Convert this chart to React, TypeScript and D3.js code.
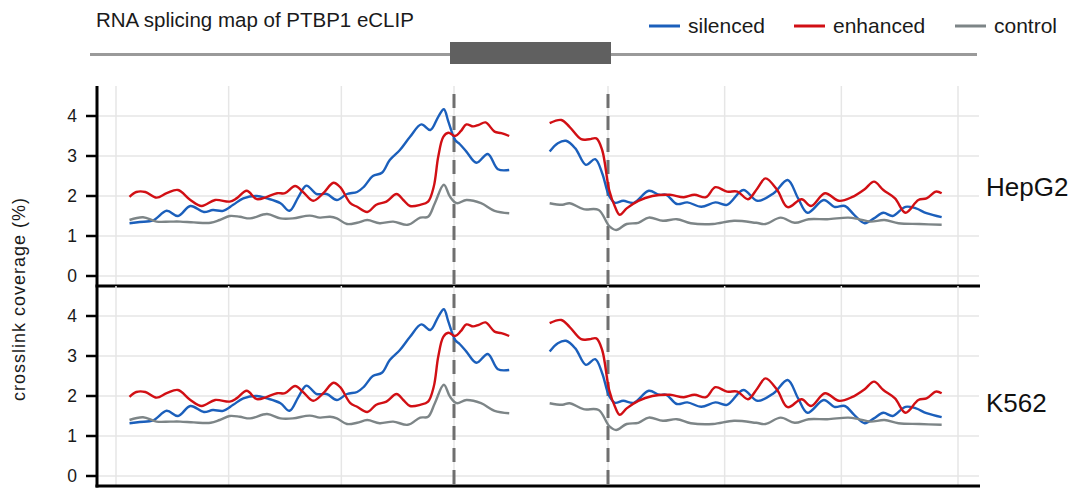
import React from 'react';
import * as d3 from 'd3';

// splicing map: crosslink coverage around the cassette exon, positions in nt
const seriesNames = ['silenced', 'enhanced', 'control'];
const seriesColors = ['#1b5fbb', '#d10f14', '#7d8587'];
const cellLines = ['HepG2', 'K562'];
const yTicks = [0, 1, 2, 3, 4];
const upstreamBreaks = [-300, -200, -100, 0];
const downstreamBreaks = [0, 100, 200, 300];

// upstream intron -> exon start (0)
const silencedUp = [
  [-288, 1.32], [-279, 1.35], [-267, 1.39], [-255, 1.63], [-245, 1.5], [-234, 1.75],
  [-222, 1.6], [-214, 1.65], [-205, 1.63], [-196, 1.78], [-187, 1.94], [-175, 2.0],
  [-166, 1.94], [-154, 1.82], [-146, 1.63], [-138, 1.98], [-131, 2.26], [-122, 2.05],
  [-113, 2.05], [-104, 1.9], [-95, 2.05], [-86, 2.1], [-80, 2.23], [-72, 2.5],
  [-64, 2.58], [-57, 2.9], [-48, 3.15], [-39, 3.48], [-29, 3.79], [-21, 3.65],
  [-14, 3.98], [-9, 4.17], [-5, 3.86], [1, 3.4], [5, 3.3], [11, 3.11], [20, 2.83],
  [30, 3.05], [39, 2.67], [49, 2.65],
];
const enhancedUp = [
  [-288, 1.98], [-282, 2.1], [-274, 2.1], [-264, 1.96], [-255, 2.07], [-245, 2.15],
  [-234, 1.9], [-224, 1.75], [-212, 1.9], [-199, 1.86], [-193, 1.94], [-184, 2.13],
  [-175, 1.92], [-166, 1.98], [-157, 2.07], [-150, 2.07], [-141, 2.25], [-134, 2.1],
  [-125, 1.88], [-116, 2.07], [-107, 2.33], [-101, 2.22], [-92, 1.82], [-86, 1.73],
  [-77, 1.6], [-69, 1.78], [-60, 1.86], [-51, 2.05], [-45, 1.9], [-39, 1.75],
  [-30, 1.78], [-23, 1.86], [-18, 2.23], [-14, 2.98], [-9.5, 3.48], [-5, 3.58],
  [1, 3.5], [6, 3.62], [11, 3.79], [17, 3.74], [22, 3.78], [28, 3.84], [36, 3.61],
  [42, 3.57], [49, 3.5],
];
const controlUp = [
  [-288, 1.4], [-276, 1.47], [-264, 1.36], [-252, 1.36], [-243, 1.36], [-231, 1.34],
  [-216, 1.33], [-208, 1.4], [-199, 1.5], [-190, 1.48], [-181, 1.44], [-166, 1.55],
  [-154, 1.44], [-143, 1.44], [-128, 1.51], [-119, 1.46], [-110, 1.48], [-104, 1.44],
  [-95, 1.3], [-86, 1.33], [-77, 1.4], [-66, 1.32], [-54, 1.36], [-41, 1.28],
  [-30, 1.46], [-23, 1.48], [-17, 1.82], [-9, 2.28], [-3.5, 1.98], [2.4, 1.82],
  [11, 1.9], [24, 1.82], [36, 1.63], [49, 1.57],
];

// exon end (0) -> downstream intron
const silencedDown = [
  [-50, 3.11], [-43, 3.32], [-36, 3.38], [-28, 3.19], [-19, 2.78], [-11, 2.92],
  [-5, 2.57], [1, 2.0], [6, 1.83], [13, 1.88], [22, 1.83], [35, 2.13], [44, 2.03],
  [50, 2.03], [59, 1.8], [68, 1.84], [80, 1.73], [92, 1.84], [102, 1.78], [116, 2.15],
  [128, 1.88], [142, 2.07], [154, 2.4], [163, 1.94], [171, 1.58], [185, 1.9],
  [194, 1.73], [203, 1.75], [211, 1.53], [220, 1.32], [228, 1.44], [236, 1.58],
  [244, 1.5], [255, 1.73], [264, 1.69], [273, 1.57], [286, 1.47],
];
const enhancedDown = [
  [-50, 3.82], [-40, 3.9], [-33, 3.73], [-23, 3.42], [-16, 3.42], [-10, 3.44],
  [-5, 3.15], [1, 2.15], [6, 1.73], [10, 1.53], [16, 1.69], [26, 1.88], [38, 2.0],
  [53, 2.03], [65, 1.97], [74, 2.03], [84, 1.97], [92, 2.22], [102, 2.11], [111, 2.11],
  [120, 1.92], [128, 2.19], [135, 2.44], [145, 2.15], [154, 1.72], [166, 1.92],
  [174, 1.75], [186, 2.07], [198, 1.88], [209, 1.97], [220, 2.17], [228, 2.36],
  [236, 2.15], [246, 1.94], [255, 1.58], [266, 1.9], [273, 1.94], [281, 2.11], [286, 2.07],
];
const controlDown = [
  [-50, 1.82], [-39, 1.78], [-33, 1.82], [-21, 1.67], [-8, 1.65], [1, 1.25], [7, 1.15],
  [16, 1.3], [26, 1.33], [35, 1.46], [47, 1.38], [59, 1.42], [71, 1.32], [90, 1.3],
  [108, 1.38], [127, 1.33], [135, 1.3], [148, 1.46], [160, 1.33], [172, 1.42],
  [188, 1.42], [206, 1.46], [215, 1.42], [225, 1.36], [237, 1.4], [249, 1.32],
  [267, 1.3], [286, 1.28],
];

const upstream = [silencedUp, enhancedUp, controlUp];
const downstream = [silencedDown, enhancedDown, controlDown];

const W = 1076;
const H = 489;
const FONT = '"Liberation Sans", Arial, Helvetica, sans-serif';

export default function App() {
  const plotLeft = 97;
  const plotRight = 979;
  const panelTop = 86;
  const panelH = 200;

  const xUp = d3.scaleLinear().domain([-300, 0]).range([116, 454]);
  const xDown = d3.scaleLinear().domain([0, 300]).range([608, 958]);

  const legendX = [649, 794, 955];

  return (
    <svg width={W} height={H} style={{ position: 'absolute', left: 0, top: 0 }} fontFamily={FONT}>
      <rect width={W} height={H} fill="#fff" />

      {/* title + exon diagram */}
      <text x={96} y={27} fontSize={20.5} fill="#1a1a1a">RNA splicing map of PTBP1 eCLIP</text>
      <line x1={90} x2={977} y1={54.5} y2={54.5} stroke="#9a9a9a" strokeWidth={3} />
      <rect x={xUp(0) - 4} y={42} width={xDown(0) - xUp(0) + 7} height={22} fill="#606060" />

      {/* legend */}
      {seriesNames.map((name, i) => (
        <g key={name}>
          <line x1={legendX[i]} x2={legendX[i] + 31} y1={26} y2={26} stroke={seriesColors[i]} strokeWidth={3} />
          <text x={legendX[i] + 39} y={33} fontSize={21} fill="#1a1a1a">{name}</text>
        </g>
      ))}

      {cellLines.map((cell, p) => {
        const top = panelTop + p * panelH;
        const y = d3.scaleLinear().domain([-0.25, 4.75]).range([top + panelH, top]);
        const line = (xs: d3.ScaleLinear<number, number>) =>
          d3
            .line<number[]>()
            .x((d) => xs(d[0]))
            .y((d) => y(d[1]))
            .curve(d3.curveCatmullRom.alpha(0.5));
        return (
          <g key={cell}>
            {/* grid */}
            {yTicks.map((t) => (
              <line key={'h' + t} x1={plotLeft} x2={plotRight} y1={y(t)} y2={y(t)} stroke="#e6e6e6" strokeWidth={1.5} />
            ))}
            {upstreamBreaks.map((b) => (
              <line key={'u' + b} x1={xUp(b)} x2={xUp(b)} y1={top} y2={top + panelH} stroke="#e6e6e6" strokeWidth={1.5} />
            ))}
            {downstreamBreaks.map((b) => (
              <line key={'d' + b} x1={xDown(b)} x2={xDown(b)} y1={top} y2={top + panelH} stroke="#e6e6e6" strokeWidth={1.5} />
            ))}

            {/* exon boundaries */}
            {[xUp(0), xDown(0)].map((bx, i) => (
              <line key={'b' + i} x1={bx} x2={bx} y1={top} y2={top + panelH} stroke="#6f6f6f" strokeWidth={3} strokeDasharray="14,8" strokeDashoffset={-8} />
            ))}

            {/* series */}
            {upstream.map((s, i) => (
              <path key={'su' + i} d={line(xUp)(s) || ''} fill="none" stroke={seriesColors[i]} strokeWidth={2.4} />
            ))}
            {downstream.map((s, i) => (
              <path key={'sd' + i} d={line(xDown)(s) || ''} fill="none" stroke={seriesColors[i]} strokeWidth={2.4} />
            ))}

            {/* y axis ticks */}
            {yTicks.map((t) => (
              <g key={'t' + t}>
                <line x1={86} x2={plotLeft} y1={y(t)} y2={y(t)} stroke="#000" strokeWidth={2.5} />
                <text x={77} y={y(t)} dy="0.35em" textAnchor="end" fontSize={17.5} fill="#1a1a1a">{t}</text>
              </g>
            ))}

            {/* panel bottom */}
            <line x1={plotLeft - 1.5} x2={plotRight + 1} y1={top + panelH} y2={top + panelH} stroke="#000" strokeWidth={3} />

            <text x={986} y={p === 0 ? 196 : 412} fontSize={26} fill="#111">{cell}</text>
          </g>
        );
      })}

      <line x1={plotLeft} x2={plotLeft} y1={panelTop} y2={panelTop + 2 * panelH + 1.5} stroke="#000" strokeWidth={3} />

      <text
        transform={`translate(25, ${panelTop + panelH + 13}) rotate(-90)`}
        textAnchor="middle"
        fontSize={18}
        letterSpacing={1}
        fill="#1a1a1a"
      >
        crosslink coverage (%)
      </text>
    </svg>
  );
}
